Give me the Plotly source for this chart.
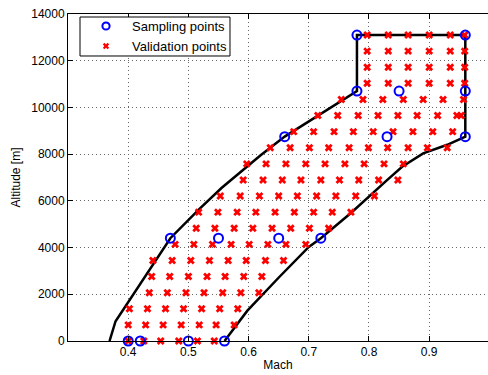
import plotly.graph_objects as go

# ---- data ----
# flight envelope boundary (Mach, altitude)
bnd_mach = [0.56, 0.598, 0.651, 0.70, 0.72, 0.77, 0.83, 0.855, 0.89, 0.93, 0.96,
            0.96, 0.78, 0.78, 0.66, 0.62, 0.555, 0.518, 0.47, 0.379, 0.369]
bnd_alt = [0, 1300, 2740, 4030, 4400, 5480, 6890, 7460, 8035, 8400, 8750,
           13100, 13100, 10700, 8750, 7950, 6550, 5650, 4400, 845, 0]

# sampling points
samp_mach = [0.40, 0.42, 0.50, 0.56, 0.47, 0.55, 0.65, 0.72,
             0.66, 0.83, 0.96, 0.78, 0.85, 0.96, 0.78, 0.96]
samp_alt = [0, 0, 0, 0, 4400, 4400, 4400, 4400,
            8750, 8750, 8750, 10700, 10700, 10700, 13100, 13100]

# validation points: altitude of each row and Mach values in that row
val_row_alt = [0, 689, 1379, 2068, 2758, 3447, 4137, 4826, 5516, 6205,
               6895, 7584, 8274, 8963, 9653, 10342, 11032, 11721, 12411, 13100]
val_row_mach = [
    [0.400, 0.426, 0.454, 0.484, 0.515, 0.543],
    [0.400, 0.429, 0.458, 0.488, 0.518, 0.546, 0.576],
    [0.402, 0.432, 0.462, 0.492, 0.522, 0.552, 0.582],
    [0.435, 0.465, 0.496, 0.526, 0.557, 0.587, 0.617],
    [0.439, 0.469, 0.500, 0.531, 0.561, 0.592, 0.622],
    [0.441, 0.473, 0.504, 0.535, 0.566, 0.596, 0.628, 0.658],
    [0.478, 0.509, 0.540, 0.571, 0.601, 0.632, 0.662, 0.695],
    [0.513, 0.544, 0.576, 0.607, 0.639, 0.670, 0.701, 0.733],
    [0.517, 0.549, 0.581, 0.612, 0.644, 0.676, 0.708, 0.739, 0.770],
    [0.553, 0.586, 0.618, 0.650, 0.681, 0.713, 0.745, 0.778, 0.809],
    [0.591, 0.624, 0.656, 0.687, 0.720, 0.751, 0.783, 0.816, 0.848],
    [0.597, 0.629, 0.662, 0.695, 0.727, 0.760, 0.792, 0.825, 0.857],
    [0.636, 0.669, 0.701, 0.733, 0.767, 0.799, 0.831, 0.865, 0.897, 0.930],
    [0.675, 0.708, 0.742, 0.774, 0.807, 0.840, 0.873, 0.906, 0.939],
    [0.715, 0.748, 0.782, 0.815, 0.848, 0.880, 0.914, 0.946, 0.953],
    [0.754, 0.790, 0.823, 0.857, 0.890, 0.923, 0.957],
    [0.797, 0.832, 0.865, 0.900, 0.935, 0.959],
    [0.797, 0.832, 0.865, 0.900, 0.935, 0.959],
    [0.797, 0.832, 0.865, 0.900, 0.935, 0.959],
    [0.797, 0.832, 0.865, 0.900, 0.935, 0.959],
]

legend_labels = ["Sampling points", "Validation points"]

x_range = [0.3, 0.9977]
y_range = [0, 14000]
x_ticks = [0.4, 0.5, 0.6, 0.7, 0.8, 0.9]
x_ticktext = ["0.4", "0.5", "0.6", "0.7", "0.8", "0.9"]
y_ticks = [0, 2000, 4000, 6000, 8000, 10000, 12000, 14000]
y_ticktext = ["0", "2000", "4000", "6000", "8000", "10000", "12000", "14000"]

val_mach = []
val_alt = []
for a, row in zip(val_row_alt, val_row_mach):
    for m in row:
        val_mach.append(m)
        val_alt.append(a)

FONT = "Liberation Sans, Arial, Helvetica, sans-serif"
BLUE = "#0000ff"
RED = "#ff0000"

SAMP_MARKER = dict(symbol="circle-open", size=9, color=BLUE,
                   line=dict(width=2, color=BLUE))
VAL_MARKER = dict(symbol="x", size=7, color=RED, line=dict(width=0))

fig = go.Figure()
fig.add_trace(go.Scatter(x=bnd_mach, y=bnd_alt, mode="lines",
                         line=dict(color="black", width=2.5),
                         showlegend=False, hoverinfo="skip", cliponaxis=False))
fig.add_trace(go.Scatter(x=val_mach, y=val_alt, mode="markers",
                         name=legend_labels[1], showlegend=False, cliponaxis=False,
                         marker=VAL_MARKER))
fig.add_trace(go.Scatter(x=samp_mach, y=samp_alt, mode="markers",
                         name=legend_labels[0], showlegend=False, cliponaxis=False,
                         marker=SAMP_MARKER))

# ---- legend box (MATLAB style), positioned in axes-fraction units ----
lg_x0, lg_x1, lg_y0, lg_y1 = 0.0286, 0.3857, 0.8716, 0.9908
lg_sym_frac = 0.0905
lg_txt_frac = 0.1476
lg_rows_frac = [0.9633, 0.9021]

fig.add_shape(type="rect", xref="x domain", yref="y domain",
              x0=lg_x0, x1=lg_x1, y0=lg_y0, y1=lg_y1,
              line=dict(color="black", width=1), fillcolor="white", layer="above")
# circle legend glyph
fig.add_shape(type="circle", xref="x domain", yref="y domain",
              xsizemode="pixel", ysizemode="pixel",
              xanchor=lg_sym_frac, yanchor=lg_rows_frac[0],
              x0=-3.6, x1=3.6, y0=-3.6, y1=3.6,
              line=dict(color=BLUE, width=2), fillcolor="rgba(0,0,0,0)", layer="above")
# cross legend glyph
for (a0, b0, a1, b1) in [(-2.4, -2.4, 2.4, 2.4), (-2.4, 2.4, 2.4, -2.4)]:
    fig.add_shape(type="line", xref="x domain", yref="y domain",
                  xsizemode="pixel", ysizemode="pixel",
                  xanchor=lg_sym_frac, yanchor=lg_rows_frac[1],
                  x0=a0, y0=b0, x1=a1, y1=b1,
                  line=dict(color=RED, width=2.2), layer="above")
for lab, yy in zip(legend_labels, lg_rows_frac):
    fig.add_annotation(xref="x domain", yref="y domain", x=lg_txt_frac, y=yy,
                       text=lab, showarrow=False, xanchor="left", yanchor="middle",
                       font=dict(family=FONT, size=13, color="black"))

fig.update_layout(
    width=488, height=375,
    margin=dict(l=68, r=0, t=14, b=34),
    paper_bgcolor="white", plot_bgcolor="white",
    font=dict(family=FONT, size=12, color="black"),
    showlegend=False,
    xaxis=dict(range=x_range, tickmode="array", tickvals=x_ticks,
               ticktext=x_ticktext, ticks="inside", ticklen=5, tickcolor="black",
               showline=True, linecolor="black", linewidth=1, mirror="allticks",
               showgrid=True, gridcolor="#666666", griddash="1px,3px", gridwidth=1,
               zeroline=False,
               title=dict(text="Mach", standoff=2, font=dict(size=12))),
    yaxis=dict(range=y_range, tickmode="array", tickvals=y_ticks,
               ticktext=y_ticktext, ticks="inside", ticklen=5, tickcolor="black",
               showline=True, linecolor="black", linewidth=1, mirror=False,
               showgrid=True, gridcolor="#666666", griddash="1px,3px", gridwidth=1,
               zeroline=False,
               title=dict(text="Altitude [m]", standoff=8, font=dict(size=12))),
)

fig.write_html("out.html")
